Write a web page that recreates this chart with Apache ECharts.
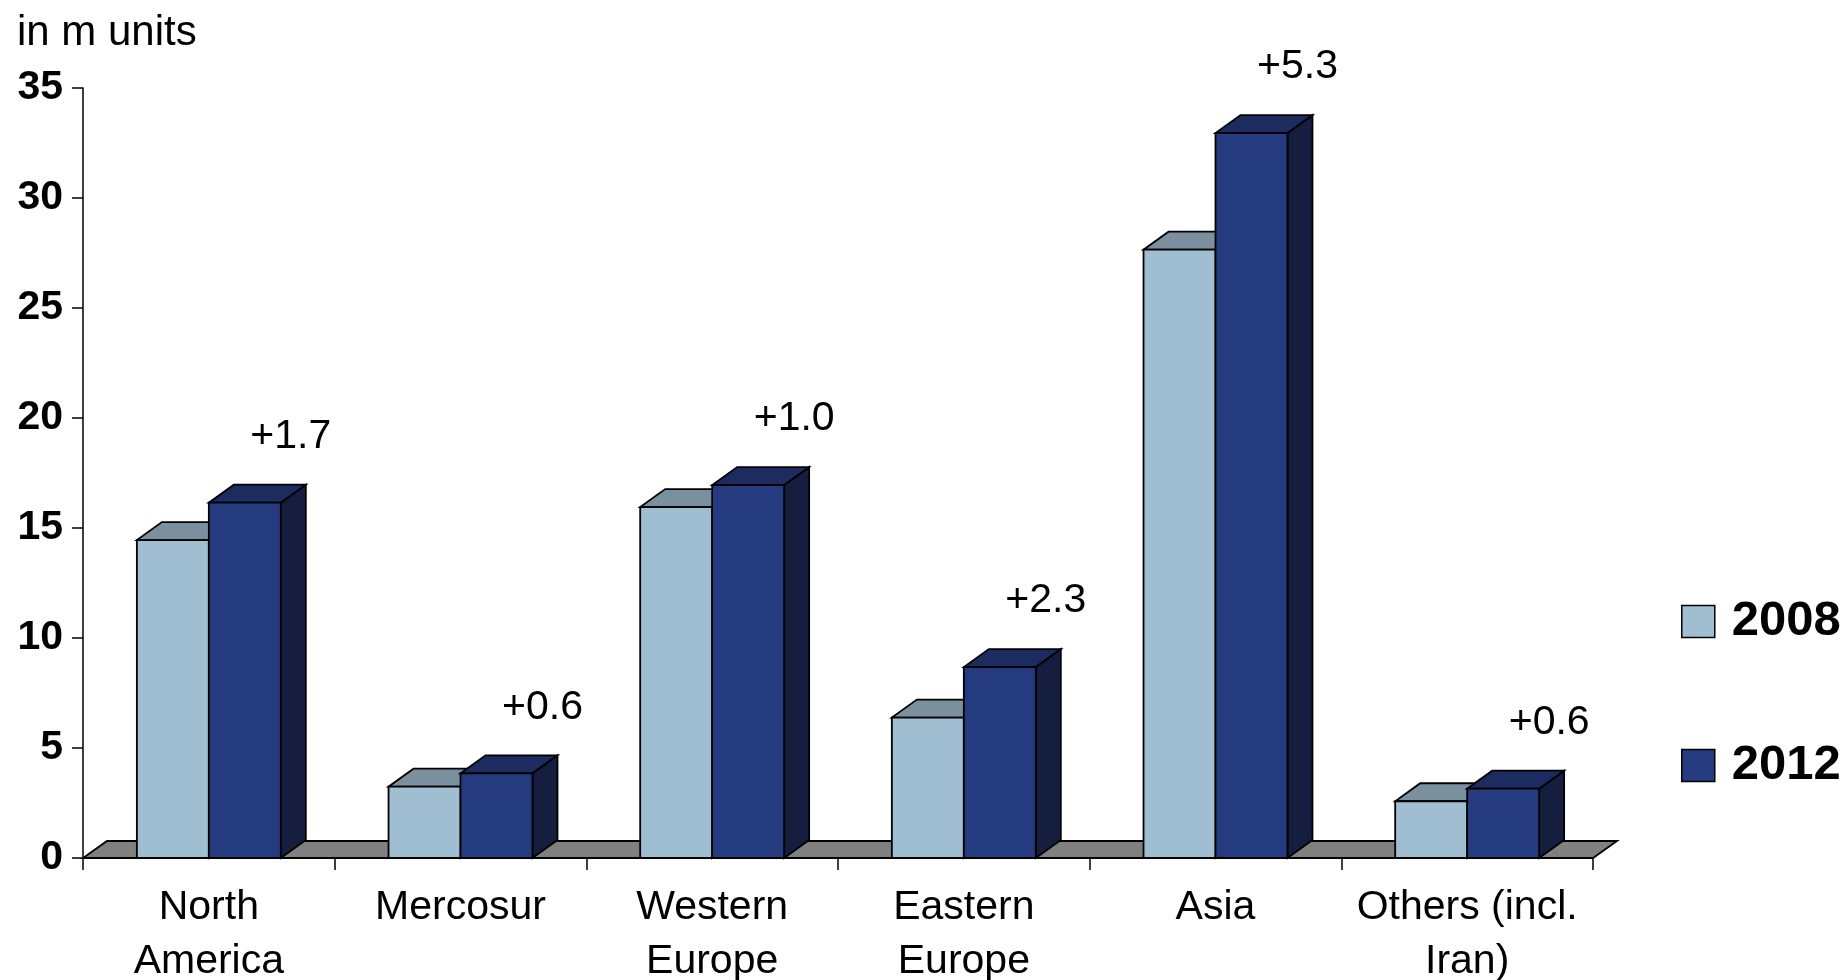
<!DOCTYPE html>
<html>
<head>
<meta charset="utf-8">
<title>Unit volumes by region, 2008 vs 2012</title>
<script src="https://cdn.jsdelivr.net/npm/echarts@6/dist/echarts.min.js"></script>
<style>
  html, body { margin: 0; padding: 0; background: #ffffff; }
  #chart { width: 1847px; height: 980px; }
</style>
</head>
<body>
<div id="chart"></div>
<script>
// Regions on the category axis
const regions = ['North\nAmerica', 'Mercosur', 'Western\nEurope', 'Eastern\nEurope', 'Asia', 'Others (incl.\nIran)'];
// Volumes in million units
const values2008 = [14.45, 3.24, 15.95, 6.38, 27.65, 2.58];
const values2012 = [16.15, 3.85, 16.95, 8.68, 32.95, 3.15];
// Value axis ticks
const yTicks = [0, 5, 10, 15, 20, 25, 30, 35];

const FONT = '"Liberation Sans", Arial, Helvetica, sans-serif';
const DX = 25, DY = -18;        // oblique depth of the 3D boxes
const FLOOR_DX = 24, FLOOR_DY = -17;
const BAR_FRAC = 0.286;         // front face width as share of a category band
const EDGE = { stroke: '#000000', lineWidth: 1.8, lineJoin: 'miter' };

const faces = {
  '2008': { front: '#A0BED2', top: '#7A909E', side: '#5E7482' },
  '2012': { front: '#253B80', top: '#1C2B60', side: '#161E40' }
};

function boxRenderer(name, sideSign, withGrowth) {
  const c = faces[name];
  return function (params, api) {
    const ci = api.value(0);
    const v = api.value(1);
    const topPt = api.coord([ci, v]);
    const basePt = api.coord([ci, 0]);
    const band = api.size([1, 0])[0];
    const w = band * BAR_FRAC;
    const x0 = sideSign < 0 ? topPt[0] - w : topPt[0];
    const x1 = x0 + w;
    const yT = topPt[1], yB = basePt[1];
    const children = [
      { type: 'polygon', shape: { points: [[x1, yT], [x1 + DX, yT + DY], [x1 + DX, yB + DY], [x1, yB]] },
        style: Object.assign({ fill: c.side }, EDGE) },
      { type: 'polygon', shape: { points: [[x0, yT], [x1, yT], [x1 + DX, yT + DY], [x0 + DX, yT + DY]] },
        style: Object.assign({ fill: c.top }, EDGE) },
      { type: 'polygon', shape: { points: [[x0, yT], [x1, yT], [x1, yB], [x0, yB]] },
        style: Object.assign({ fill: c.front }, EDGE) }
    ];
    if (withGrowth) {
      // growth label: difference between the two years for this region
      const growth = values2012[ci] - values2008[ci];
      children.push({
        type: 'text',
        style: {
          text: '+' + growth.toFixed(1),
          x: (x0 + x1) / 2 + 46,
          y: yT - 66,
          align: 'center',
          verticalAlign: 'middle',
          font: '41px ' + FONT,
          fill: '#000000'
        }
      });
    }
    return { type: 'group', children: children };
  };
}

function floorRenderer(params, api) {
  const cs = params.coordSys;
  const y0 = api.coord([0, 0])[1];
  const xL = cs.x, xR = cs.x + cs.width;
  return {
    type: 'polygon',
    shape: { points: [[xL, y0], [xR, y0], [xR + FLOOR_DX, y0 + FLOOR_DY], [xL + FLOOR_DX, y0 + FLOOR_DY]] },
    style: Object.assign({ fill: '#808080' }, EDGE)
  };
}

const chart = echarts.init(document.getElementById('chart'), null, { renderer: 'canvas' });

chart.setOption({
  backgroundColor: '#ffffff',
  animation: false,
  textStyle: { fontFamily: FONT },
  title: {
    text: 'in m units',
    left: 17,
    top: 12,
    padding: 0,
    textStyle: { fontFamily: FONT, fontSize: 42, fontWeight: 'normal', color: '#000000' }
  },
  legend: {
    orient: 'vertical',
    left: 1681,
    top: 597,
    padding: 0,
    itemGap: 95,
    itemWidth: 33,
    itemHeight: 32,
    icon: 'rect',
    selectedMode: false,
    data: ['2008', '2012'],
    itemStyle: { borderColor: '#000000', borderWidth: 1.5 },
    textStyle: { fontFamily: FONT, fontSize: 49, fontWeight: 'bold', color: '#000000', lineHeight: 32, padding: [0, 0, 0, 12] }
  },
  grid: { left: 83, right: 254, top: 88, bottom: 122, containLabel: false, outerBoundsMode: 'none' },
  xAxis: {
    type: 'category',
    data: regions,
    boundaryGap: true,
    axisLine: { show: true, lineStyle: { color: '#000000', width: 1.5 } },
    axisTick: { show: true, length: 12, alignWithLabel: false, lineStyle: { color: '#000000', width: 1.5 } },
    axisLabel: {
      interval: 0,
      margin: 23,
      fontFamily: FONT,
      fontSize: 41,
      lineHeight: 54,
      color: '#000000'
    },
    splitLine: { show: false }
  },
  yAxis: {
    type: 'value',
    min: yTicks[0],
    max: yTicks[yTicks.length - 1],
    interval: yTicks[1] - yTicks[0],
    axisLine: { show: true, lineStyle: { color: '#000000', width: 1.5 } },
    axisTick: { show: true, length: 11, inside: false, lineStyle: { color: '#000000', width: 1.5 } },
    axisLabel: {
      margin: 20,
      fontFamily: FONT,
      fontSize: 41,
      fontWeight: 'bold',
      color: '#000000'
    },
    splitLine: { show: false }
  },
  series: [
    {
      name: 'floor',
      type: 'custom',
      silent: true,
      z: 1,
      renderItem: floorRenderer,
      encode: { x: 0, y: 1 },
      data: [[0, 0]]
    },
    {
      name: '2008',
      type: 'custom',
      z: 2,
      itemStyle: { color: faces['2008'].front, borderColor: '#000000', borderWidth: 1.5 },
      renderItem: boxRenderer('2008', -1, false),
      encode: { x: 0, y: 1 },
      data: values2008.map((v, i) => [i, v])
    },
    {
      name: '2012',
      type: 'custom',
      z: 3,
      itemStyle: { color: faces['2012'].front, borderColor: '#000000', borderWidth: 1.5 },
      renderItem: boxRenderer('2012', 1, true),
      encode: { x: 0, y: 1 },
      data: values2012.map((v, i) => [i, v])
    }
  ]
});
</script>
</body>
</html>
